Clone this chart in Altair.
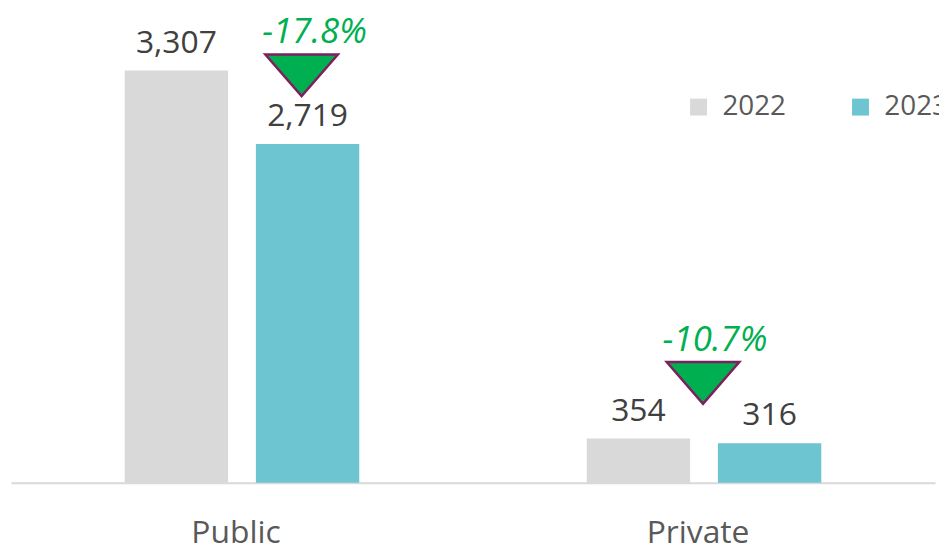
import altair as alt
import pandas as pd

groups = ["Public", "Private"]
years = ["2022", "2023"]
values_2022 = [3307, 354]
values_2023 = [2719, 316]
changes = ["-17.8%", "-10.7%"]
colors = ["#d9d9d9", "#6cc5d0"]

FONT = "Open Sans"

rows = []
for g, a, b in zip(groups, values_2022, values_2023):
    rows.append({"group": g, "year": "2022", "value": a, "label": f"{a:,}"})
    rows.append({"group": g, "year": "2023", "value": b, "label": f"{b:,}"})
df = pd.DataFrame(rows)

chg = pd.DataFrame({
    "group": groups,
    "change": changes,
    "anchor": [max(a, b) for a, b in zip(values_2022, values_2023)],
})

x_enc = alt.X(
    "group:N",
    sort=groups,
    scale=alt.Scale(paddingInner=0, paddingOuter=0),
    axis=alt.Axis(
        title=None, labelAngle=0, ticks=False, tickSize=0,
        domainColor="#d9d9d9", domainWidth=2,
        labelFontSize=32, labelColor="#595959", labelFont=FONT,
        labelBaseline="alphabetic", labelPadding=60, labelOffset=-6,
    ),
)
xo_enc = alt.XOffset("year:N", sort=years,
                     scale=alt.Scale(paddingInner=0.212, paddingOuter=0.867))
y_enc = alt.Y("value:Q", scale=alt.Scale(domain=[0, 3700], nice=False, zero=True), axis=None)

base = alt.Chart(df).encode(x=x_enc, xOffset=xo_enc, y=y_enc)

bars = base.mark_bar().encode(
    color=alt.Color(
        "year:N",
        sort=years,
        scale=alt.Scale(domain=years, range=colors),
        legend=alt.Legend(
            title=None, orient="none", direction="horizontal",
            legendX=678, legendY=72,
            symbolType="square", symbolSize=289, symbolStrokeWidth=0,
            labelFontSize=28, labelColor="#595959", labelFont=FONT,
            labelOffset=10, columnPadding=60, padding=0,
        ),
    )
)

labels = base.mark_text(
    baseline="alphabetic", dy=-18, fontSize=32, font=FONT, color="#404040"
).encode(text="label:N")


def tri_path(ox, oy, half=36.5):
    # downward triangle shape, offset within the symbol's own coordinate frame
    a, b = ox / half, oy / half
    return (f"M{-1 + a:.3f},{-0.575 + b:.3f} L{1 + a:.3f},{-0.575 + b:.3f} "
            f"L{a:.3f},{0.575 + b:.3f} Z")


def change_layer(gname, tox, toy, pdx, pdy):
    d = chg[chg["group"] == gname]
    c = alt.Chart(d).encode(
        x=alt.X("group:N", sort=groups),
        y=alt.Y("anchor:Q"),
    )
    tri = c.mark_point(
        shape=tri_path(tox, toy), size=5329, filled=True, fill="#00b050",
        opacity=1, stroke="#7f1f5f", strokeWidth=2.5,
    )
    txt = c.mark_text(
        baseline="alphabetic", fontSize=35, font=FONT, fontStyle="italic",
        color="#00b050", dx=pdx, dy=pdy,
    ).encode(text="change:N")
    return tri + txt


pub = change_layer("Public", 60, 4.7, 73, -28)
pri = change_layer("Private", -1, -56, 11, -88)

chart = alt.layer(bars, labels, pub, pri).properties(
    width=930, height=464,
    autosize=alt.AutoSizeParams(type="none"),
    padding={"left": 3, "top": 12, "right": 4, "bottom": 65},
).configure_view(stroke=None)

chart.save("out.html", embed_options={"renderer": "svg", "actions": False})
